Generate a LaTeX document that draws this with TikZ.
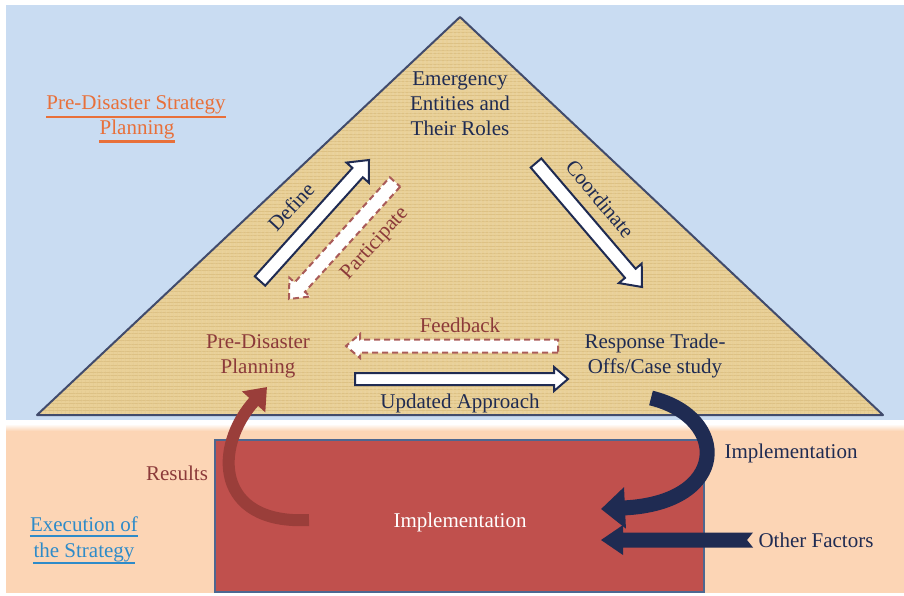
\documentclass[tikz,border=0pt]{standalone}
\usepackage{fontspec}
\setmainfont{Liberation Serif}
\usetikzlibrary{calc,arrows.meta,patterns.meta}

\definecolor{skyblue}{HTML}{C9DCF2}
\definecolor{peach}{HTML}{FCD5B5}
\definecolor{papyrus}{HTML}{E9D097}
\definecolor{papyrusdark}{HTML}{DDC184}
\definecolor{navy}{HTML}{1F2B52}
\definecolor{inkred}{HTML}{8C3A3A}
\definecolor{rust}{HTML}{9A3E3A}
\definecolor{brick}{HTML}{C0504D}
\definecolor{framegray}{HTML}{4D6790}
\definecolor{orangeul}{HTML}{E8703A}
\definecolor{bluelink}{HTML}{2E8BC9}

% straight block arrow: style, from, to, shaft half width, head half width, head length
\newcommand\blockarrow[6]{%
  \coordinate (hb) at ($(#3)!#6!(#2)$);
  \path[#1] ($(#2)!#4!90:(#3)$) -- ($(hb)!#4!90:(#3)$) -- ($(hb)!#5!90:(#3)$)
    -- (#3) -- ($(hb)!#5!-90:(#3)$) -- ($(hb)!#4!-90:(#3)$) -- ($(#2)!#4!-90:(#3)$) -- cycle;
}

\tikzset{
  txt/.style={font=\fontsize{21}{25}\selectfont, inner sep=0pt, anchor=base},
  solidarrow/.style={fill=white, draw=navy, line width=2pt, line join=miter},
  dasharrow/.style={fill=white, draw=rust!85, line width=2pt, dash pattern=on 6pt off 4pt},
}

\begin{document}
\begin{tikzpicture}[x=1pt,y=-1pt]
\useasboundingbox (0,0) rectangle (904,596);
\fill[white] (0,0) rectangle (904,596);

% two bands: strategy planning (top) and execution (bottom)
\fill[skyblue] (6,5) rectangle (904,420);
\fill[peach] (6,428) rectangle (904,593);
\shade[top color=white, bottom color=peach] (6,424) rectangle (904,431);

% the triangle
\coordinate (apex) at (460,17);
\coordinate (bl) at (37,415);
\coordinate (br) at (883,415);
\fill[papyrus] (apex) -- (br) -- (bl) -- cycle;
\begin{scope}
  \clip (apex) -- (br) -- (bl) -- cycle;
  \fill[pattern={Lines[angle=0,distance=3.5pt,line width=0.35pt]}, pattern color=papyrusdark] (0,0) rectangle (904,420);
  \fill[pattern={Lines[angle=90,distance=4pt,line width=0.35pt]}, pattern color=papyrusdark] (0,0) rectangle (904,420);
\end{scope}
\draw[navy!85, line width=2pt, line join=round] (apex) -- (br) -- (bl) -- cycle;

% implementation block
\node[draw=framegray, line width=2pt, fill=brick, minimum width=489pt, minimum height=152pt, inner sep=0pt]
  (impl) at (459.5,516) {};
\node[txt, white] (impltext) at (460,527) {Implementation};

% triangle corner labels
\node[txt, navy] (em1) at (460,86) {Emergency};
\node[txt, navy] (em2) at (460,111) {Entities and};
\node[txt, navy] (em3) at (460,136) {Their Roles};
\node[txt, inkred] (pd1) at (258,348) {Pre-Disaster};
\node[txt, inkred] (pd2) at (258,373) {Planning};
\node[txt, navy] (rt1) at (655,348) {Response Trade-};
\node[txt, navy] (rt2) at (655,373) {Offs/Case study};

% arrow end points
\coordinate (defA) at (260,281);
\coordinate (defB) at (369,160);
\coordinate (parA) at (395,182);
\coordinate (parB) at (289,299);
\coordinate (cooA) at (536,163);
\coordinate (cooB) at (642,287);
\coordinate (fbA) at (558,346);
\coordinate (fbB) at (346,346);
\coordinate (upA) at (355,379);
\coordinate (upB) at (568,379);

\blockarrow{solidarrow}{defA}{defB}{7pt}{15pt}{17pt}
\blockarrow{dasharrow}{parA}{parB}{7pt}{14pt}{16pt}
\blockarrow{solidarrow}{cooA}{cooB}{7pt}{15pt}{18pt}
\blockarrow{dasharrow}{fbA}{fbB}{6.5pt}{12pt}{14pt}
\blockarrow{solidarrow}{upA}{upB}{6pt}{12pt}{14pt}

\node[txt, navy, rotate=47, anchor=center] (deflbl) at (291,207) {Define};
\node[txt, inkred, rotate=48, anchor=center] (parlbl) at (375,244) {Participate};
\node[txt, navy, rotate=-50, anchor=center] (coolbl) at (600,199) {Coordinate};
\node[txt, inkred] (fblbl) at (460,332) {Feedback};
\node[txt, navy] (uplbl) at (460,408) {Updated Approach};

% results: from the execution block back to planning
\coordinate (resA) at (309,520);
\coordinate (resB) at (267,387);
\draw[rust, line width=12pt, -{Triangle[length=20pt,width=30pt]}]
  (resA) .. controls (215,525) and (213,447) .. (resB);
\node[txt, inkred] (reslbl) at (177,480) {Results};

% implementation feed from the response trade-offs
\coordinate (impA) at (651,398);
\coordinate (impB) at (601,509);
\draw[navy, line width=15pt, -{Triangle[length=24pt,width=40pt]}]
  (impA) .. controls (730,417) and (730,503) .. (impB);
\node[txt, navy] (implbl) at (791,458) {Implementation};

% other factors
\coordinate (ofA) at (753,540);
\coordinate (ofB) at (601,540);
\fill[navy] ($(ofA)+(0,-7.5)$) -- ($(ofB)+(22,-7.5)$) -- ($(ofB)+(22,-15)$) -- (ofB)
  -- ($(ofB)+(22,15)$) -- ($(ofB)+(22,7.5)$) -- ($(ofA)+(0,7.5)$) -- ($(ofA)+(-6,0)$) -- cycle;
\node[txt, navy] (oflbl) at (816,547) {Other Factors};

% band titles
\node[txt, orangeul] (pds1) at (136,110) {Pre-Disaster Strategy};
\node[txt, orangeul] (pds2) at (137,135) {Planning};
\draw[orangeul, line width=2.2pt] ([yshift=-7pt]pds1.base west) -- ([yshift=-7pt]pds1.base east);
\draw[orangeul, line width=2.2pt] ([yshift=-6.5pt]pds2.base west) -- ([yshift=-6.5pt]pds2.base east);
\node[txt, bluelink] (ex1) at (84,531) {Execution of};
\node[txt, bluelink] (ex2) at (84,557) {the Strategy};
\draw[bluelink, line width=2.2pt] ([yshift=-5pt]ex1.base west) -- ([yshift=-5pt]ex1.base east);
\draw[bluelink, line width=2.2pt] ([yshift=-6pt]ex2.base west) -- ([yshift=-6pt]ex2.base east);
\end{tikzpicture}
\end{document}
